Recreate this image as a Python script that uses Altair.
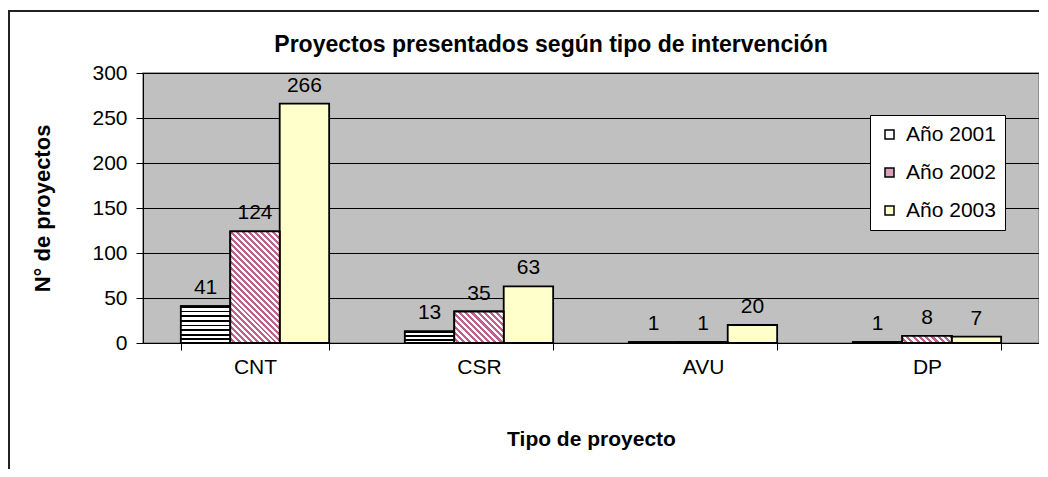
import altair as alt
import pandas as pd

categories = ["CNT", "CSR", "AVU", "DP"]
years = ["Año 2001", "Año 2002", "Año 2003"]
v2001 = [41, 13, 1, 1]
v2002 = [124, 35, 1, 8]
v2003 = [266, 63, 20, 7]
y_ticks = [0, 50, 100, 150, 200, 250, 300]

rows = []
for i, c in enumerate(categories):
    for y, vals in zip(years, [v2001, v2002, v2003]):
        rows.append({"cat": c, "year": y, "value": vals[i]})
df = pd.DataFrame(rows)

PLOT_W, PLOT_H = 896, 270
PAD_IN = 0.338
Y_MAX = 300
step = PLOT_W / len(categories)
bar_w = step * (1 - PAD_IN) / 3
px_per_unit = PLOT_H / Y_MAX

x_enc = alt.X("cat:N", sort=categories,
              scale=alt.Scale(paddingInner=PAD_IN, paddingOuter=PAD_IN / 2),
              axis=alt.Axis(title="Tipo de proyecto", labelAngle=0, tickBand="extent",
                            domainColor="black", tickColor="black", tickSize=7,
                            labelFontSize=21, labelColor="black", labelPadding=6,
                            titleFontSize=21, titleFontWeight="bold", titleColor="black",
                            titlePadding=51, grid=False))
xo_enc = alt.XOffset("year:N", sort=years, scale=alt.Scale(paddingInner=0, paddingOuter=0))
y_enc = alt.Y("value:Q", scale=alt.Scale(domain=[0, Y_MAX], nice=False),
              axis=alt.Axis(values=y_ticks, title="N° de proyectos", grid=True,
                            gridColor="black", gridWidth=1, domainColor="black",
                            tickColor="black", tickSize=7, labelPadding=9,
                            labelFontSize=21, labelColor="black",
                            titleFontSize=22, titleFontWeight="bold", titleColor="black",
                            titlePadding=37))

base = alt.Chart(df)

bars = base.mark_bar(stroke="black", strokeWidth=1.8).encode(
    x=x_enc, xOffset=xo_enc, y=y_enc,
    fill=alt.Fill("year:N", sort=years,
                  scale=alt.Scale(domain=years, range=["#FFFFFF", "#DDA0BC", "#FFFFCC"]),
                  legend=alt.Legend(title=None, orient="none", legendX=727, legendY=42,
                                    fillColor="white", strokeColor="black",
                                    padding=9, symbolType="square", symbolSize=81,
                                    symbolStrokeColor="black", symbolStrokeWidth=1.5,
                                    labelFontSize=21, labelColor="black", labelOffset=6,
                                    rowPadding=16)),
)


def hstripe_grad(value):
    h = value * px_per_unit
    n = int(round(h / 4.6))
    stops = []
    if n <= 0:
        return "#FFFFFF"
    for k in range(n):
        a = k / n
        b = (k + 0.62) / n
        c = (k + 1) / n
        stops += [alt.GradientStop(color="#FFFFFF", offset=a),
                  alt.GradientStop(color="#FFFFFF", offset=b),
                  alt.GradientStop(color="#000000", offset=b),
                  alt.GradientStop(color="#000000", offset=c)]
    return alt.LinearGradient(gradient="linear", stops=stops, x1=0, y1=1, x2=0, y2=0)


def dstripe_grad(value):
    h = value * px_per_unit
    if h < 2:
        return "#FFFFFF"
    w = bar_w
    a = w / (w + h)
    b = -h / (w + h)
    s = a * a + b * b
    dx, dy = a / s, b / s
    n = int(round((w + h) / 6.0))
    stops = []
    for k in range(n):
        p0 = k / n
        p1 = (k + 0.5) / n
        p2 = (k + 1) / n
        stops += [alt.GradientStop(color="#FFFFFF", offset=p0),
                  alt.GradientStop(color="#FFFFFF", offset=p1),
                  alt.GradientStop(color="#C0608C", offset=p1),
                  alt.GradientStop(color="#C0608C", offset=p2)]
    return alt.LinearGradient(gradient="linear", stops=stops, x1=0, y1=1, x2=dx, y2=1 + dy)


pattern_layers = []
for i, c in enumerate(categories):
    for y, vals, fn in [(years[0], v2001, hstripe_grad), (years[1], v2002, dstripe_grad)]:
        pattern_layers.append(
            base.transform_filter((alt.datum.cat == c) & (alt.datum.year == y))
            .mark_bar(fill=fn(vals[i]), stroke="black", strokeWidth=1.8)
            .encode(x=x_enc, xOffset=xo_enc, y=y_enc)
        )

labels = base.mark_text(fontSize=21, color="black", baseline="middle", dy=-18).encode(
    x=x_enc, xOffset=xo_enc, y=y_enc, text="value:Q"
)

frame = base.mark_rect(fill="transparent", stroke="#222222", strokeWidth=2).encode(
    x=alt.value(-134), x2=alt.value(PLOT_W + 40), y=alt.value(-62), y2=alt.value(PLOT_H + 300)
)

chart = alt.layer(frame, bars, *pattern_layers, labels).properties(
    width=PLOT_W, height=PLOT_H,
    title=alt.TitleParams("Proyectos presentados según tipo de intervención",
                          fontSize=23, fontWeight="bold", color="black", dx=-40, offset=-47,
                          anchor="middle", frame="group"),
    autosize=alt.AutoSizeParams(type="none"),
    padding={"left": 135, "top": 65, "right": 0, "bottom": 126},
).configure(font="Liberation Sans").configure_view(
    fill="#C0C0C0", stroke="#808080", strokeWidth=1.5
)

chart.save("out.html", embed_options={"renderer": "svg", "actions": False})
